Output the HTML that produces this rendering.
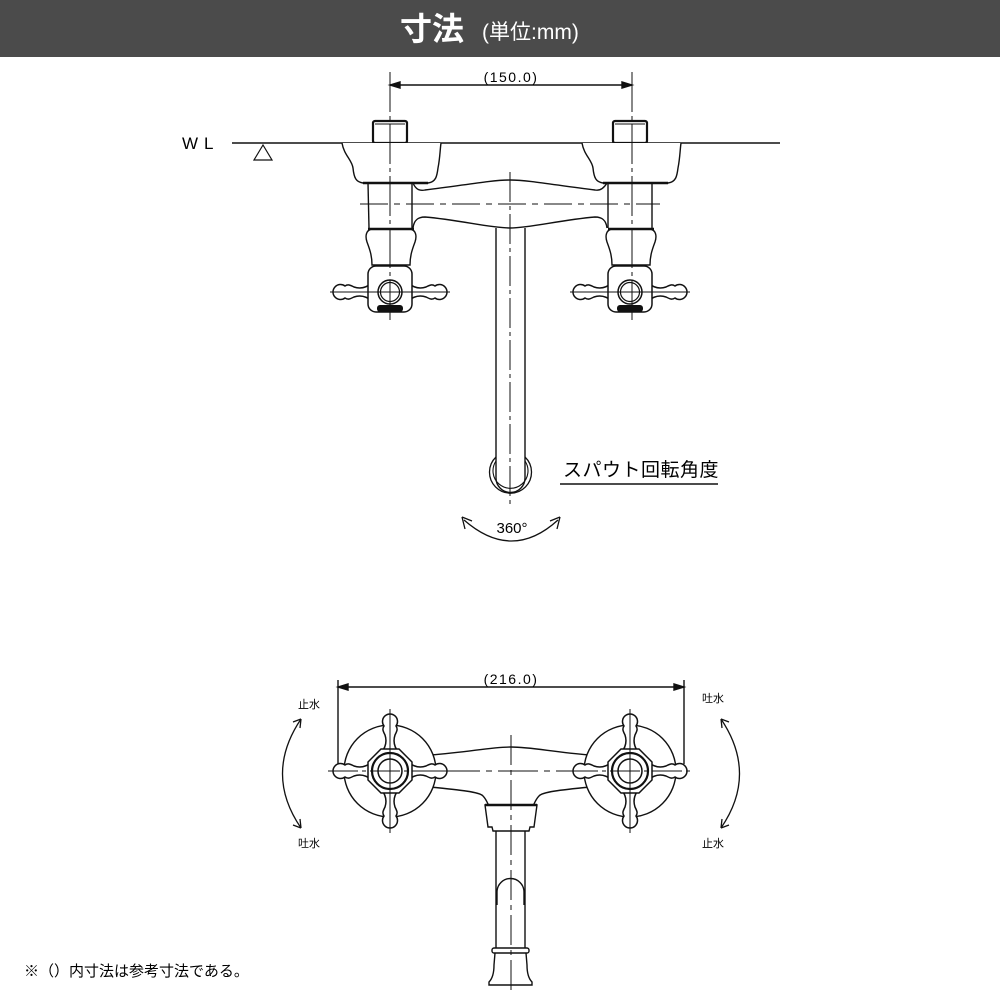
<!DOCTYPE html>
<html><head><meta charset="utf-8"><style>
html,body{margin:0;padding:0;background:#fff;}
svg{display:block;}
text{font-family:"Liberation Sans","Noto Sans CJK JP",sans-serif;}
</style></head><body>
<svg width="1000" height="1000" viewBox="0 0 1000 1000" xmlns="http://www.w3.org/2000/svg">
<defs>
<g id="arm">
<path d="M18,-9 C24,-4 30,-3 36,-5 C40,-7 42,-8 45,-6 A7.5,7.5 0 1 1 45,6 C42,8 40,7 36,5 C30,3 24,4 18,9" fill="#fff" stroke="#111" stroke-width="1.5"/>
</g>
<g id="sideH">
<use href="#arm"/>
<use href="#arm" transform="scale(-1,1)"/>
<rect x="-22" y="-26" width="44" height="46" rx="8" fill="#fff" stroke="#111" stroke-width="1.5"/>
<circle cx="0" cy="0" r="12" fill="#fff" stroke="#111" stroke-width="1.5"/>
<circle cx="0" cy="0" r="9.5" fill="none" stroke="#111" stroke-width="1.2"/>
<rect x="-13" y="13" width="26" height="7" rx="3" fill="#111"/>
<line x1="-60" y1="0" x2="60" y2="0" stroke="#111" stroke-width="1"/>
</g>
<g id="topH">
<circle r="46" fill="#fff" stroke="#111" stroke-width="1.4"/>
<use href="#arm"/>
<use href="#arm" transform="rotate(90)"/>
<use href="#arm" transform="rotate(180)"/>
<use href="#arm" transform="rotate(270)"/>
<polygon points="22,-9 9,-22 -9,-22 -22,-9 -22,9 -9,22 9,22 22,9" fill="#fff" stroke="#111" stroke-width="1.5"/>
<circle r="18" fill="none" stroke="#111" stroke-width="2.2"/>
<circle r="12" fill="none" stroke="#111" stroke-width="1.5"/>
<line x1="-62" y1="0" x2="62" y2="0" stroke="#111" stroke-width="1" stroke-dasharray="30,4,4,4"/>
<line x1="0" y1="-62" x2="0" y2="62" stroke="#111" stroke-width="1"/>
</g>
</defs>
<rect x="0" y="0" width="1000" height="57" fill="#4b4b4b"/>
<text x="400" y="40" font-size="32" font-weight="bold" fill="#fff">寸法</text>
<text x="482" y="39" font-size="21" fill="#fff">(単位:mm)</text>

<g stroke="#111" fill="none" stroke-width="1.4">
<line x1="390" y1="85" x2="632" y2="85"/>
<path d="M390,85 l10,-3 v6 z M632,85 l-10,-3 v6 z" fill="#111"/>
<line x1="232" y1="143" x2="780" y2="143"/>
<path d="M263,145 L272,160 L254,160 Z" stroke-width="1.2"/>
<rect x="373" y="121" width="34" height="22" rx="2" stroke-width="2.2"/>
<rect x="613" y="121" width="34" height="22" rx="2" stroke-width="2.2"/>
<line x1="375" y1="124" x2="405" y2="124" stroke-width="1"/>
<line x1="615" y1="124" x2="645" y2="124" stroke-width="1"/>
<path d="M342,143 C344,155 352,160 353,168 C354,178 356,182 363,183 L428,183 C436,182 437,176 438,168 C440,158 440,150 441,143" fill="#fff"/>
<path d="M582,143 C584,155 592,160 593,168 C594,178 596,182 603,183 L668,183 C676,182 677,176 678,168 C680,158 680,150 681,143" fill="#fff"/>
<line x1="363" y1="183" x2="428" y2="183" stroke-width="2.5"/>
<line x1="603" y1="183" x2="668" y2="183" stroke-width="2.5"/>
<line x1="368" y1="183" x2="369" y2="228"/>
<line x1="412" y1="183" x2="412" y2="228"/>
<line x1="608" y1="183" x2="608" y2="228"/>
<line x1="652" y1="183" x2="652" y2="228"/>
<path d="M413,183 C416,190 420,191 425,190 C460,186 490,180 510,180 C530,180 560,186 595,190 C600,191 604,188 607,183"/>
<path d="M413,228 C414,220 418,217 425,217 C460,220 490,228 510,228 C530,228 560,220 595,217 C602,217 606,220 607,228"/>
<path d="M496,228 L496,478 A14.5,14.5 0 0 0 525,478 L525,228"/>
<path d="M496,457 A21,21 0 1 0 525,457" stroke-width="1.3"/>
<path d="M496,461 A17.5,17.5 0 1 0 525,461" stroke-width="1.1"/>
<path d="M372,229 L410,229 C416,230 417,236 415,242 C412,250 410,256 410,265 L372,265 C372,256 370,250 367,242 C365,236 366,230 372,229 Z" fill="#fff"/>
<path d="M612,229 L650,229 C656,230 657,236 655,242 C652,250 650,256 650,265 L612,265 C612,256 610,250 607,242 C605,236 606,230 612,229 Z" fill="#fff"/>
</g>
<line x1="368" y1="229" x2="414" y2="229" stroke="#111" stroke-width="2.5"/>
<line x1="608" y1="229" x2="654" y2="229" stroke="#111" stroke-width="2.5"/>
<use href="#sideH" transform="translate(390,292)"/>
<use href="#sideH" transform="translate(630,292)"/>
<g stroke="#111" stroke-width="1" fill="none">
<line x1="390" y1="72" x2="390" y2="320" stroke-dasharray="40,4,4,4"/>
<line x1="632" y1="72" x2="632" y2="320" stroke-dasharray="40,4,4,4"/>
<line x1="510" y1="172" x2="510" y2="505" stroke-dasharray="30,4,4,4"/>
<line x1="360" y1="204" x2="660" y2="204" stroke-dasharray="28,6,6,6"/>
</g>
<text x="511" y="82" font-size="14" text-anchor="middle" letter-spacing="1.5">(150.0)</text>
<text x="182" y="149" font-size="17" letter-spacing="6">WL</text>
<text x="563" y="476" font-size="19" letter-spacing="0.5">スパウト回転角度</text>
<line x1="560" y1="484" x2="718" y2="484" stroke="#111" stroke-width="1.4"/>
<text x="512" y="533" font-size="15" text-anchor="middle">360°</text>
<path d="M464,520 Q512,562 558,520" fill="none" stroke="#111" stroke-width="1.3"/>
<path d="M462,517 l3,12 M462,517 l10,4 M560,517 l-3,12 M560,517 l-10,4" stroke="#111" stroke-width="1.3"/>

<g stroke="#111" fill="none" stroke-width="1.4">
<line x1="338" y1="687" x2="684" y2="687"/>
<path d="M338,687 l10,-3 v6 z M684,687 l-10,-3 v6 z" fill="#111"/>
<line x1="338" y1="680" x2="338" y2="764"/>
<line x1="684" y1="680" x2="684" y2="764"/>
<path d="M430,755 C470,752 490,747 511,747 C532,747 552,752 590,755"/>
<path d="M430,787 C460,790 480,792 483,796 C487,800 488,805 490,808 M590,787 C560,790 542,792 539,796 C535,800 534,805 532,808"/>
<path d="M485,805 L537,805 L534,827 L530,827 L529,831 L493,831 L492,827 L488,827 Z" fill="#fff"/>
<line x1="485" y1="805" x2="537" y2="805" stroke-width="2.5"/>
<line x1="496" y1="831" x2="496" y2="948"/>
<line x1="525" y1="831" x2="525" y2="948"/>
<path d="M497,905 L497,892 A13.5,13.5 0 0 1 524,892 L524,905"/>
<rect x="492" y="948" width="37" height="5" rx="2"/>
<path d="M495,953 L494,965 C494,975 491,980 489,982 L489,985 L532,985 L532,982 C530,980 527,975 527,965 L526,953"/>
</g>
<use href="#topH" transform="translate(390,771)"/>
<use href="#topH" transform="translate(630,771)"/>
<line x1="511" y1="735" x2="511" y2="992" stroke="#111" stroke-width="1" stroke-dasharray="30,5,5,5"/>
<line x1="440" y1="771" x2="580" y2="771" stroke="#111" stroke-width="1" stroke-dasharray="40,6,6,6"/>
<text x="511" y="684" font-size="14" text-anchor="middle" letter-spacing="1.5">(216.0)</text>
<g fill="none" stroke="#111" stroke-width="1.3">
<path d="M301,719 Q264,774 301,828"/>
<path d="M301,719 l-8,3 M301,719 l-1,9 M301,828 l-8,-3 M301,828 l-1,-9"/>
<path d="M721,719 Q758,774 721,828"/>
<path d="M721,719 l8,3 M721,719 l1,9 M721,828 l8,-3 M721,828 l1,-9"/>
</g>
<g font-size="11" text-anchor="middle">
<text x="309" y="708">止水</text>
<text x="309" y="847">吐水</text>
<text x="713" y="702">吐水</text>
<text x="713" y="847">止水</text>
</g>
<text x="24" y="976" font-size="15">※（）内寸法は参考寸法である。</text>
</svg>
</body></html>
